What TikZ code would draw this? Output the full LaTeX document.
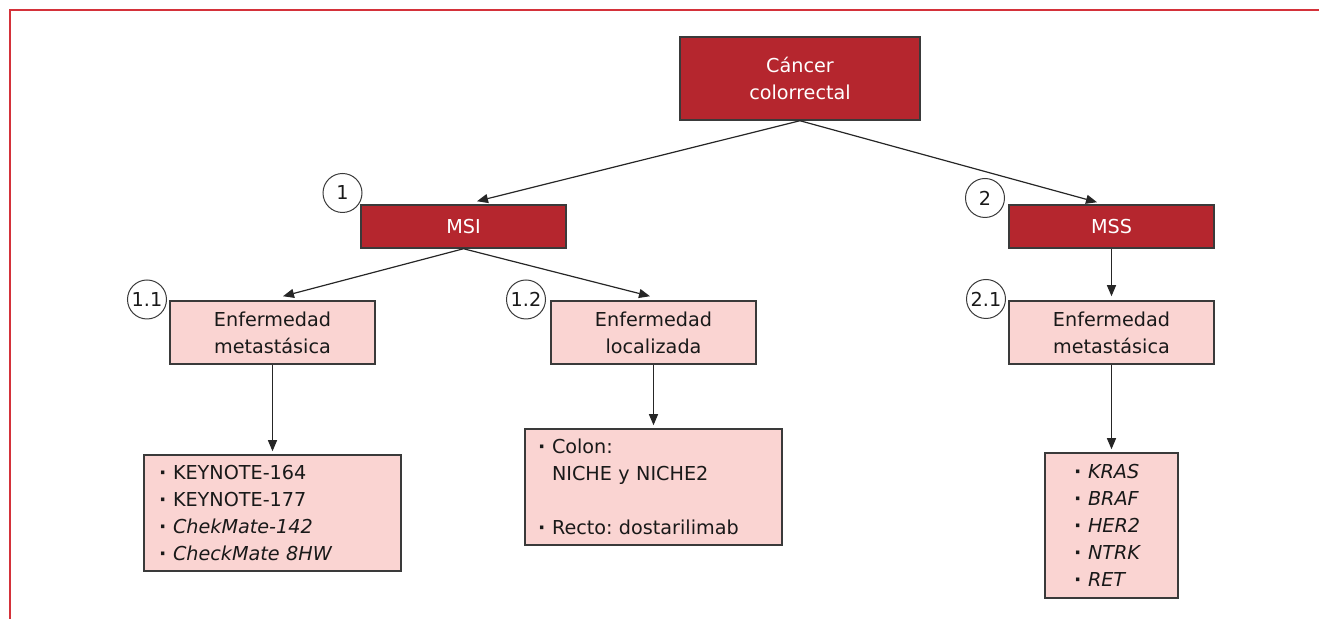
\documentclass[tikz,border=0pt]{standalone}
\usepackage{fontspec}
\setmainfont{DejaVu Sans}
\usetikzlibrary{arrows.meta,calc}
\definecolor{darkred}{HTML}{B5262E}
\definecolor{lightpink}{HTML}{FAD4D2}
\definecolor{framered}{HTML}{D4323A}
\definecolor{edge}{HTML}{3A3A3A}
\frenchspacing
\begin{document}
\begin{tikzpicture}[x=0.5pt,y=-0.5pt,
  every node/.style={font=\fontsize{9.6pt}{13.5pt}\selectfont, inner sep=0pt},
  darkbox/.style={draw=edge, line width=0.75pt, fill=darkred, text=white, align=center},
  lightbox/.style={draw=edge, line width=0.75pt, fill=lightpink, text=black!90, align=center},
  listbox/.style={draw=edge, line width=0.75pt, fill=lightpink, text=black!90, align=left},
  numcircle/.style={circle, draw=edge, line width=0.5pt, minimum size=19.5pt, text=black!90},
  conn/.style={draw=black!85, line width=0.6pt, -{Triangle[length=5.5pt,width=4.5pt]}}
]
\useasboundingbox (0,0) rectangle (1319,619);
\draw[framered, line width=1pt] (1319,10.5) -- (10,10.5) -- (10,619);

\newcommand{\bul}[1]{\makebox[7pt][l]{\upshape\bfseries\textperiodcentered}#1}

\node[darkbox, minimum width=120pt, minimum height=41.5pt] (cancer) at (800,78.5) {Cáncer\\colorrectal};
\node[darkbox, minimum width=102.5pt, minimum height=21.5pt] (msi) at (463.5,226.5) {MSI};
\node[darkbox, minimum width=102.5pt, minimum height=21.5pt] (mss) at (1111.5,226.5) {MSS};
\node[lightbox, minimum width=102.5pt, minimum height=31.5pt] (em1) at (272.5,332.5) {Enfermedad\\metastásica};
\node[lightbox, minimum width=102.5pt, minimum height=31.5pt] (loc) at (653.5,332.5) {Enfermedad\\localizada};
\node[lightbox, minimum width=102.5pt, minimum height=31.5pt] (em2) at (1111.5,332.5) {Enfermedad\\metastásica};

\node[listbox, minimum width=128.5pt, minimum height=58pt, text width=113.5pt] (keynote) at (272.5,513)
  {\bul{KEYNOTE-164}\\\bul{KEYNOTE-177}\\\bul{\itshape ChekMate-142}\\\bul{\itshape CheckMate 8HW}};
\node[listbox, minimum width=128.5pt, minimum height=58pt, text width=115.5pt] (colon) at (653.5,487)
  {\bul{Colon:}\\\hspace*{7pt}NICHE y NICHE2\\[13.5pt]\bul{Recto: dostarilimab}};
\node[listbox, minimum width=66.5pt, minimum height=72.5pt, text width=37.5pt] (kras) at (1111.5,525.5)
  {\bul{\itshape KRAS}\\\bul{\itshape BRAF}\\\bul{\itshape HER2}\\\bul{\itshape NTRK}\\\bul{\itshape RET}};

\node[numcircle] (c1) at (342.5,193) {1};
\node[numcircle] (c2) at (985,198) {2};
\node[numcircle] (c11) at (147,299.5) {1.1};
\node[numcircle] (c12) at (526,299.5) {1.2};
\node[numcircle] (c21) at (986,299) {2.1};

\draw[conn] (cancer.south) -- ([xshift=6.75pt,yshift=1.5pt]msi.north);
\draw[conn] (cancer.south) -- ([xshift=-7.25pt,yshift=1pt]mss.north);
\draw[conn] (msi.south) -- ([xshift=5.25pt,yshift=2pt]em1.north);
\draw[conn] (msi.south) -- ([xshift=-1.75pt,yshift=2pt]loc.north);
\draw[conn, shorten >=2pt] (mss.south) -- (em2.north);
\draw[conn, shorten >=1.5pt] (em1.south) -- (keynote.north);
\draw[conn, shorten >=1.5pt] (loc.south) -- (colon.north);
\draw[conn, shorten >=1.5pt] (em2.south) -- (kras.north);
\end{tikzpicture}
\end{document}
